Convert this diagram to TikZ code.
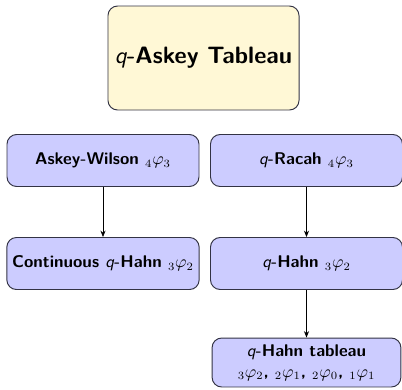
\documentclass[tikz,border=0pt]{standalone}
\usepackage{amsmath}
\usepackage{amssymb}
\usepackage{tikz}
\usetikzlibrary{arrows.meta, positioning}
\definecolor{lightcream}{HTML}{FFF8D6}
\definecolor{lightlav}{HTML}{CCCCFF}
\definecolor{cborder}{HTML}{333344}
\newcommand{\qq}{{\normalfont\sffamily\itshape q}}

\begin{document}
\begin{tikzpicture}[
  x=0.625pt, y=-0.625pt,
  box/.style={draw=cborder, line width=0.6pt, rounded corners=6pt, minimum width=120pt, minimum height=32.5pt, align=center, fill=lightlav, font=\fontsize{10.6}{13}\sffamily\bfseries},
  arr/.style={-{Stealth[length=4pt, width=3.2pt]}, line width=0.5pt}
]
  \useasboundingbox (0,0) rectangle (402,389);

  \node[box, fill=lightcream, minimum width=119.4pt, minimum height=65pt, font=\fontsize{14.8}{18}\sffamily\bfseries] (tableau) at (203.5, 58) {\qq-Askey Tableau};

  \node[box] (wilson) at (103, 160.5) {Askey-Wilson ${}_4\varphi_3$};
  \node[box] (racah) at (306.5, 160.5) {\qq-Racah ${}_4\varphi_3$};

  \node[box] (conthahn) at (103, 263.5) {Continuous \qq-Hahn ${}_3\varphi_2$};
  \node[box] (hahn) at (306.5, 263.5) {\qq-Hahn ${}_3\varphi_2$};

  \node[box, minimum width=118pt, minimum height=30.6pt] (hahntab) at (306.5, 362.5) {\qq-Hahn tableau\\[0pt]${}_3\varphi_2$, ${}_2\varphi_1$, ${}_2\varphi_0$, ${}_1\varphi_1$};

  \draw[arr] (wilson) -- (conthahn);
  \draw[arr] (racah) -- (hahn);
  \draw[arr] (hahn) -- (hahntab);
\end{tikzpicture}
\end{document}
